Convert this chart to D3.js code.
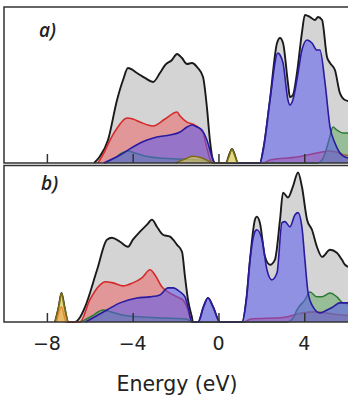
<!DOCTYPE html>
<html><head><meta charset="utf-8">
<script src="https://cdn.jsdelivr.net/npm/d3@7"></script>
<style>body{margin:0;background:#fff}svg{display:block}</style>
</head><body>
<svg id="c" width="348" height="399"></svg>
<script>
// ---- data (energy in eV, DOS in arbitrary units) ----
const xTicks = [-8, -4, 0, 4];
const panelLabels = ["a)", "b)"];

const totalA = [[-5.8,0],[-5.55,0.4],[-5.15,1.53],[-4.73,4.2],[-4.45,5.53],[-4.22,6.33],[-3.8,6.0],[-3.43,5.67],[-3.05,5.4],[-2.73,6.0],[-2.49,6.53],[-2.17,6.87],[-1.93,7.27],[-1.7,7.0],[-1.47,6.6],[-1.24,6.67],[-0.96,6.33],[-0.72,5.73],[-0.54,3.73],[-0.4,1.53],[-0.26,0.2],[-0.16,0],[0.35,0],[0.5,0.55],[0.63,0.93],[0.76,0.55],[0.9,0],[1.93,0],[2.1,1.0],[2.4,4.2],[2.73,8.0],[2.87,8.33],[3.01,8.0],[3.24,5.33],[3.33,4.4],[3.47,4.53],[3.66,6.0],[3.89,8.67],[4.03,9.87],[4.27,9.73],[4.5,9.53],[4.64,9.73],[4.83,9.53],[5.06,7.07],[5.2,6.67],[5.43,6.2],[5.66,4.67],[5.9,4.2],[6.2,4.1]];
const redA = [[-5.62,0],[-5.34,0.67],[-5.06,1.53],[-4.69,2.4],[-4.27,3.0],[-3.99,2.93],[-3.66,2.73],[-3.05,2.47],[-2.49,2.93],[-1.93,3.4],[-1.79,3.13],[-1.47,2.73],[-1.1,2.53],[-0.72,2.0],[-0.54,1.0],[-0.35,0.13],[-0.26,0],[2.1,0],[2.4,0.2],[3.66,0.4],[4.59,0.67],[5.2,0.8],[5.66,0.67],[5.9,0.53],[6.2,0.5]];
const greenA = [[-5.29,0],[-4.83,0.33],[-4.5,0.67],[-4.22,0.8],[-3.89,0.67],[-3.43,0.47],[-2.73,0.33],[-1.79,0.27],[-0.86,0.2],[-0.4,0.07],[-0.21,0],[4.6,0],[4.83,0.2],[5.06,1.07],[5.2,1.8],[5.34,2.4],[5.52,2.2],[5.8,2.0],[6.2,2.0]];
const blueA = [[-5.35,0],[-4.59,0.53],[-3.99,1.07],[-3.33,1.53],[-2.87,1.73],[-2.26,1.87],[-1.79,2.07],[-1.47,2.4],[-1.24,2.53],[-1.0,2.4],[-0.77,2.2],[-0.54,1.53],[-0.3,0.4],[-0.16,0],[1.93,0],[2.1,1.0],[2.4,4.2],[2.77,7.33],[2.87,7.2],[3.01,6.67],[3.24,4.2],[3.33,3.87],[3.47,4.2],[3.71,6.0],[3.89,7.53],[4.13,8.2],[4.36,8.0],[4.59,7.53],[4.73,7.53],[4.97,5.33],[5.2,2.4],[5.43,1.33],[5.66,0.67],[5.9,0.4],[6.2,0.3]];
const yellowA = [[-2.0,0],[-1.5,0.3],[-1.2,0.45],[-0.8,0.35],[-0.4,0.1],[-0.2,0],[0.35,0],[0.5,0.5],[0.63,0.93],[0.76,0.5],[0.9,0]];

const totalB = [[-7.62,0],[-7.45,1.0],[-7.32,1.93],[-7.18,1.0],[-7.02,0],[-6.69,0],[-6.46,0.3],[-6.22,1.0],[-5.66,3.47],[-5.2,5.47],[-4.97,5.6],[-4.59,5.33],[-4.22,5.0],[-3.99,5.47],[-3.66,6.0],[-3.33,6.47],[-3.1,6.8],[-2.87,6.33],[-2.59,5.8],[-2.26,5.67],[-1.93,5.13],[-1.7,4.67],[-1.56,3.0],[-1.42,1.47],[-1.24,0.33],[-1.19,0],[-0.95,0],[-0.7,1.0],[-0.49,1.6],[-0.25,1.0],[0.07,0],[1.1,0],[1.3,1.5],[1.47,4.13],[1.7,6.8],[1.79,7.0],[1.93,6.6],[2.17,4.33],[2.4,3.8],[2.63,4.13],[2.87,6.8],[3.01,8.6],[3.24,8.27],[3.47,9.0],[3.71,9.93],[3.89,9.0],[4.13,6.8],[4.36,6.13],[4.59,5.0],[4.83,4.33],[5.2,4.8],[5.52,4.6],[5.76,4.13],[5.9,3.8],[6.2,3.6]];
const redB = [[-7.55,0],[-7.32,1.0],[-7.1,0],[-6.46,0],[-6.0,1.47],[-5.52,2.47],[-5.29,2.67],[-4.92,2.6],[-4.45,2.4],[-3.99,2.6],[-3.57,2.93],[-3.19,3.47],[-2.96,3.13],[-2.63,2.33],[-2.35,2.0],[-1.93,1.67],[-1.66,1.47],[-1.42,0.8],[-1.24,0],[1.2,0],[1.5,0.2],[3.0,0.3],[3.9,0.6],[4.5,0.67],[5.0,0.6],[5.5,0.5],[6.2,0.4]];
const greenB = [[-6.4,0],[-5.9,0.4],[-5.38,0.8],[-5.0,0.67],[-4.5,0.47],[-3.5,0.33],[-2.5,0.27],[-1.5,0.2],[-1.2,0],[3.2,0],[3.5,0.3],[3.66,0.8],[4.03,1.47],[4.27,2.0],[4.59,1.67],[4.83,1.67],[5.2,1.93],[5.52,1.67],[5.8,1.27],[6.2,1.2]];
const blueB = [[-6.2,0],[-5.2,0.8],[-4.59,1.27],[-3.8,1.6],[-3.19,1.67],[-2.73,1.8],[-2.35,2.27],[-2.12,2.27],[-1.79,2.0],[-1.56,1.67],[-1.42,1.0],[-1.24,0],[-0.95,0],[-0.7,1.0],[-0.49,1.6],[-0.25,1.0],[0.07,0],[1.1,0],[1.3,1.5],[1.47,4.13],[1.7,6.0],[1.79,6.13],[2.03,5.47],[2.26,3.47],[2.49,2.8],[2.73,3.27],[2.96,6.6],[3.1,6.67],[3.33,6.33],[3.57,7.13],[3.71,7.27],[3.89,6.33],[4.03,4.13],[4.18,1.93],[4.41,1.0],[4.73,0.6],[5.06,0.8],[5.34,1.0],[5.66,1.27],[6.2,1.27]];
const yellowB = [[-7.62,0],[-7.45,1.0],[-7.32,1.93],[-7.18,1.0],[-7.02,0]];

const panels = [
  {label: panelLabels[0], series: [totalA, redA, greenA, blueA, yellowA]},
  {label: panelLabels[1], series: [totalB, redB, greenB, blueB, yellowB]}
];
const styles = [
  {fill: "#d4d4d4", fo: 1, stroke: "#1a1a1a", sw: 1.9},
  {fill: "#ee5a5a", fo: 0.5, stroke: "#d42a2a", sw: 1.6},
  {fill: "#5aa85a", fo: 0.5, stroke: "#2f7a35", sw: 1.5},
  {fill: "#5a5af0", fo: 0.55, stroke: "#2a1aa0", sw: 1.6},
  {fill: "#f0dc40", fo: 0.55, stroke: "#7a6a18", sw: 1.5}
];

// ---- layout ----
const svg = d3.select("#c");
const x = d3.scaleLinear().domain([-10, 6.1]).range([4, 349.3]);
const tops = [7, 165.5], bottoms = [163, 322];
const yMax = 10.4;

svg.append("defs").append("clipPath").attr("id", "clip")
  .append("rect").attr("x", 4).attr("y", 0).attr("width", 346).attr("height", 399);

panels.forEach((p, i) => {
  const y = d3.scaleLinear().domain([0, yMax]).range([bottoms[i], tops[i]]);
  const g = svg.append("g").attr("clip-path", "url(#clip)");
  const area = d3.area().x(d => x(d[0])).y0(y(0)).y1(d => y(d[1])).curve(d3.curveMonotoneX);
  const line = d3.line().x(d => x(d[0])).y(d => y(d[1])).curve(d3.curveMonotoneX);
  p.series.forEach((s, k) => {
    const st = styles[k];
    g.append("path").datum(s).attr("d", area).attr("fill", st.fill).attr("fill-opacity", st.fo);
    g.append("path").datum(s).attr("d", line).attr("fill", "none")
      .attr("stroke", st.stroke).attr("stroke-width", st.sw).attr("stroke-linejoin", "round");
  });
  // frame (left, top, bottom)
  const fr = svg.append("g").attr("stroke", "#333").attr("stroke-width", 1.5).attr("fill", "none");
  fr.append("path").attr("d", `M${x.range()[1]+2},${tops[i]}H4V${bottoms[i]}H${x.range()[1]+2}`);
  // inward ticks
  const axis = d3.axisBottom(x).tickValues(xTicks).tickSize(-9).tickFormat("");
  const ag = svg.append("g").attr("transform", `translate(0,${bottoms[i]})`).call(axis);
  ag.select(".domain").remove();
  ag.selectAll("line").attr("stroke", "#333").attr("stroke-width", 1.5);
  svg.append("text").attr("x", i === 0 ? 39 : 41).attr("y", i === 0 ? 37 : 190)
    .attr("font-family", "'Open Sans', sans-serif").attr("font-style", "italic")
    .attr("font-weight", 600).attr("font-size", 19).attr("fill", "#222").text(p.label);
});

// tick labels
svg.append("g").selectAll("text").data(xTicks).join("text")
  .attr("x", d => x(d)).attr("y", 350).attr("text-anchor", "middle")
  .attr("font-family", "'DejaVu Sans', sans-serif").attr("font-size", 19).attr("fill", "#222")
  .text(d => d < 0 ? "\u2212" + Math.abs(d) : d);
svg.append("text").attr("x", 177).attr("y", 391).attr("text-anchor", "middle")
  .attr("font-family", "'DejaVu Sans', sans-serif").attr("font-size", 20.5).attr("fill", "#222")
  .text("Energy (eV)");
</script>
</body></html>
